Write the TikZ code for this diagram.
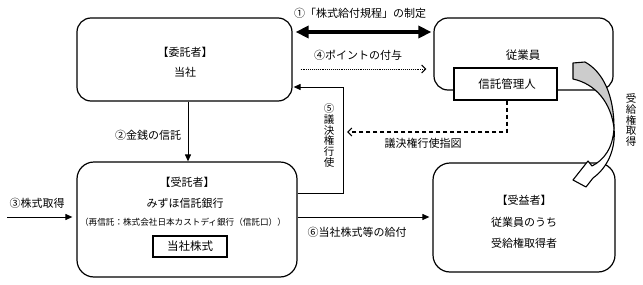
\documentclass[tikz,border=0pt]{standalone}
\usepackage{fontspec}
\setmainfont{Noto Sans CJK JP}
\usetikzlibrary{arrows.meta}
\begin{document}
\begin{tikzpicture}[x=1pt,y=-1pt,
  rbox/.style={draw, line width=1.2pt, inner sep=0pt},
  sbox/.style={draw, line width=1.1pt, fill=white, inner sep=0pt},
  txt/.style={inner sep=0pt, font=\fontsize{11}{13}\selectfont},
  bigtxt/.style={inner sep=0pt, font=\fontsize{11.5}{13}\selectfont},
  smalltxt/.style={inner sep=0pt, font=\fontsize{8.6}{10}\selectfont},
  vtxt/.style={inner sep=0pt, align=center, font=\fontsize{10.5}{10.8}\selectfont},
  conn/.style={line width=1pt, -{Triangle[length=7pt,width=6pt]}},
  dotconn/.style={line width=0.9pt, densely dotted, -{Straight Barb[length=4pt,width=8pt,line width=1pt]}},
  dashconn/.style={line width=1.1pt, dash pattern=on 4pt off 3pt, -{Straight Barb[length=4pt,width=8pt,line width=1.1pt]}},
  bigconn/.style={line width=3.6pt, {Triangle[length=13pt,width=12pt]}-{Triangle[length=13pt,width=12pt]}},
  ribbon/.style={draw, line width=1.1pt, line join=round}
]
\useasboundingbox (0,0) rectangle (643,284);

% boxes
\node[rbox, rounded corners=14pt, minimum width=215pt, minimum height=83pt] (itaku) at (184.5,59.5) {};
\node[rbox, rounded corners=14pt, minimum width=179pt, minimum height=72pt] (jugyo) at (523.5,54) {};
\node[sbox, minimum width=103pt, minimum height=32pt] (kanri) at (505.5,84) {};
\node[rbox, rounded corners=17pt, minimum width=220pt, minimum height=115pt] (jutaku) at (187,219.5) {};
\node[sbox, minimum width=74pt, minimum height=21pt] (kabu) at (190,246.5) {};
\node[rbox, rounded corners=17pt, minimum width=182pt, minimum height=109pt] (jueki) at (524,217.5) {};

% texts in boxes
\node[txt] (t1) at (185,52) {【委託者】};
\node[txt] (t2) at (185,72) {当社};
\node[bigtxt] (t3) at (523,55) {従業員};
\node[bigtxt] (t4) at (507,84.5) {信託管理人};
\node[txt] (t5) at (187,182) {【受託者】};
\node[txt] (t6) at (185,203) {みずほ信託銀行};
\node[smalltxt] (t7) at (183,222.5) {（再信託：株式会社日本カストディ銀行（信託口））};
\node[bigtxt] (t8) at (190,246.5) {当社株式};
\node[txt] (t9) at (524,200) {【受益者】};
\node[txt] (t10) at (524,222) {従業員のうち};
\node[txt] (t11) at (524,243) {受給権取得者};

% connector labels
\node[txt] (l1) at (360,13) {①「株式給付規程」の制定};
\node[txt] (l4) at (358,55) {④ポイントの付与};
\node[txt] (l2) at (148,135) {②金銭の信託};
\node[txt] (l3) at (37,203) {③株式取得};
\node[txt] (l6) at (357,232) {⑥当社株式等の給付};
\node[txt] (lz) at (423,143) {議決権行使指図};
\node[vtxt] (l5) at (329,135.5) {⑤\\議\\決\\権\\行\\使};
\node[vtxt] (lr) at (631,120) {受\\給\\権\\取\\得};

% connectors
\draw[bigconn, shorten <=3pt, shorten >=2pt] (itaku.east |- 0,32) -- (jugyo.west |- 0,32);
\draw[dotconn, shorten <=8pt, shorten >=7pt] (itaku.east |- 0,69) -- (jugyo.west |- 0,69);
\draw[conn] (itaku.south -| 188,0) -- (jutaku.north -| 188,0);
\coordinate (s3) at (7,217);
\draw[conn, shorten >=4pt] (s3) -- (jutaku.west |- s3);
\draw[conn, shorten >=3pt] (jutaku.east |- 0,217) -- (jueki.west |- 0,217);
\coordinate (c5) at (343,87);
\draw[conn, shorten >=1pt] (jutaku.east |- 0,193) -| (c5) -- (itaku.east |- c5);
\coordinate (d5) at (347,132);
\draw[dashconn] (kanri.south -| 507,0) |- (d5);

% curved block arrow
\path[ribbon, fill=white] (614,128) .. controls (613,148) and (604,160) .. (592,166)
  -- (588,161) -- (573,180) -- (586,187) -- (593,178)
  .. controls (607,168) and (616,150) .. (614,128) -- cycle;
\path[ribbon, fill=gray!40] (573,63) -- (585,62) .. controls (603,72) and (614,95) .. (614,128)
  .. controls (611,103) and (596,84) .. (573,79) -- cycle;
\end{tikzpicture}
\end{document}
